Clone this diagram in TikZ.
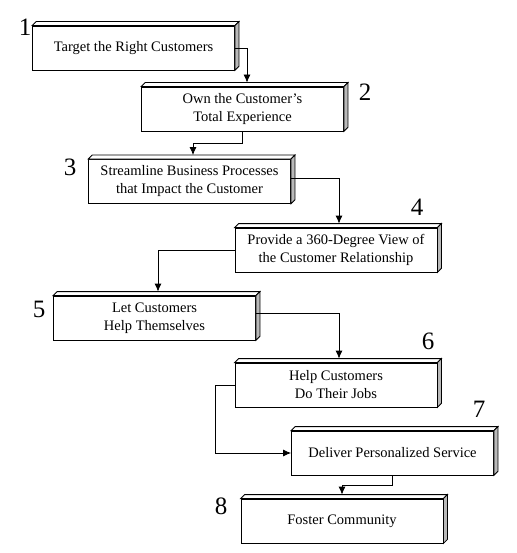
\documentclass[tikz,border=0pt]{standalone}
\usepackage{fontspec}
\setmainfont{Liberation Serif}
\usetikzlibrary{arrows.meta}

\tikzset{
  slab/.style={draw, fill=white, minimum width=202pt, minimum height=44pt,
    align=center, inner sep=2pt, font=\fontsize{14.5}{18}\selectfont},
  stepno/.style={inner sep=0pt, font=\fontsize{25}{25}\selectfont},
}

\begin{document}
\begin{tikzpicture}[x=1pt, y=-1pt, >={Latex[length=8pt,width=7pt]}, line width=0.8pt]
  \useasboundingbox (0,0) rectangle (516,553);
  % The eight steps, from the top down.
  \node[slab] (target)     at (133.5,48)  {Target the Right Customers};
  \node[slab] (own)        at (242.5,109) {Own the Customer's\\Total Experience};
  \node[slab] (streamline) at (189.5,181.5) {Streamline Business Processes\\that Impact the Customer};
  \node[slab] (view)       at (336,250)   {Provide a 360-Degree View of\\the Customer Relationship};
  \node[slab] (selfhelp)   at (154.5,318) {Let Customers\\Help Themselves};
  \node[slab] (jobs)       at (336,385)   {Help Customers\\Do Their Jobs};
  \node[slab] (service)    at (392.5,453) {Deliver Personalized Service};
  \node[slab] (community)  at (342,521)   {Foster Community};
  % Thin top face and shaded side face on each box.
  \foreach \n in {target,own,streamline,view,selfhelp,jobs,service,community} {
    \draw[fill=white] (\n.north west) -- ++(4pt,4pt)
      -- ([shift={(4pt,4pt)}]\n.north east) -- (\n.north east) -- cycle;
    \draw[fill=gray!55] (\n.north east) -- ++(4pt,4pt)
      -- ([shift={(4pt,4pt)}]\n.south east) -- (\n.south east) -- cycle;
  }
  % Step numbers.
  \node[stepno] (no1) at (25,27)  {1};
  \node[stepno] (no2) at (365,92) {2};
  \node[stepno] (no3) at (70,167) {3};
  \node[stepno] (no4) at (417,207) {4};
  \node[stepno] (no5) at (39,309) {5};
  \node[stepno] (no6) at (428,341) {6};
  \node[stepno] (no7) at (479,409) {7};
  \node[stepno] (no8) at (221,506) {8};
  % Connectors between the steps.
  \draw[->] (target.east) -| ([xshift=4.5pt,yshift=4pt]own.north);
  \draw[->] (own.south) -- ++(0,12) -| ([xshift=3.5pt,yshift=4pt]streamline.north);
  \draw[->] ([yshift=3.5pt]streamline.east) -| ([xshift=3pt,yshift=4pt]view.north);
  \draw[->] (view.west) -| ([xshift=3.5pt,yshift=4pt]selfhelp.north);
  \draw[->] ([yshift=5pt]selfhelp.east) -| ([xshift=3pt,yshift=4pt]jobs.north);
  \draw[->] (jobs.west) -- ++(-19,0) |- (service.west);
  \draw[->] (service.south) -- ++(0,10) -| ([yshift=4pt]community.north);
\end{tikzpicture}
\end{document}
